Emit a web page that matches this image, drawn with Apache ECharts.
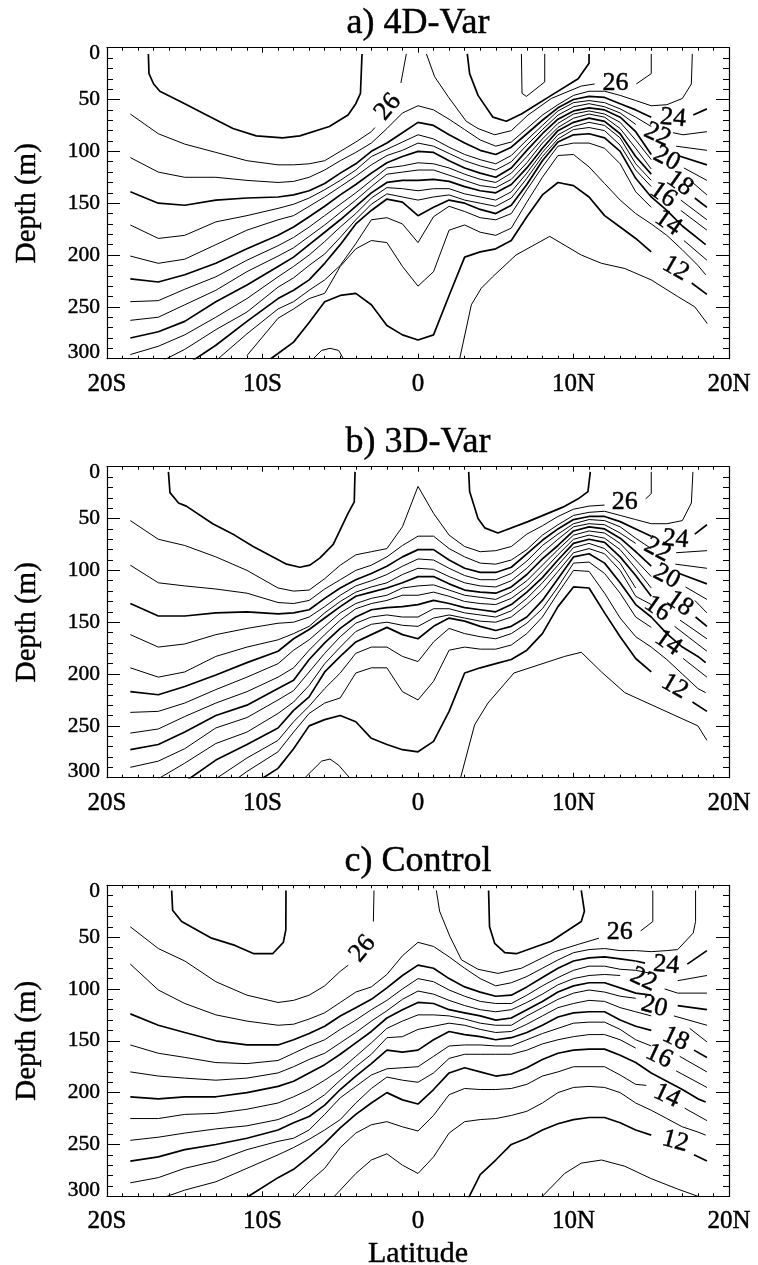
<!DOCTYPE html>
<html>
<head>
<meta charset="utf-8">
<title>Depth sections</title>
<script src="https://cdn.jsdelivr.net/npm/echarts@6/dist/echarts.min.js"></script>
<style>
  html, body { margin: 0; padding: 0; background: #fff; }
  #chart { width: 758px; height: 1265px; }
</style>
</head>
<body>
<div id="chart"></div>
<script>
// latitude (deg, south negative) of the columns used by the depth rows below
const latGrid = [-18.5,-16.7,-15,-13,-11,-9,-8,-7,-6,-5,-4,-3,-2,-1,0,1,2,3,4,5,6,7,8,9,10,11,12,13,14,15,16,17,18,18.5];
const latTicks = { "-20": "20S", "-10": "10S", "0": "0", "10": "10N", "20": "20N" };

// a) 4D-Var, depth (m) of each isotherm per column, null = no line there
const a26 = [64,83,93,101,109,113,113,112,109,100,91,81];
const a25 = [106,120,125,125,128,130,129,125,118,109,101,92,78,63,56,60,69,79,89,95,91,78,65,55,46,42,42,46,51,56,55,49];
const a24 = [139,150,152,147,145,144,142,138,131,121,112,100,92,82,72,75,84,92,99,103,96,83,70,58,50,47,48,54,60,67];
const a23 = [171,184,181,168,162,155,151,145,137,128,118,105,98,91,84,88,96,103,108,112,104,89,75,61,53,51,53,59,67,76];
const a22 = [201,208,204,190,176,166,162,153,144,134,124,113,104,99,92,95,102,109,114,118,110,94,79,65,57,54,57,63,74];
const a21 = [223,226,219,208,194,181,173,163,153,142,132,121,111,105,100,101,109,116,121,125,116,99,83,69,61,58,60,67,81,103];
const a20 = [245,244,233,221,205,191,183,173,162,151,140,128,116,114,111,112,116,122,127,130,121,105,88,73,64,61,64,72,89,108];
const a19 = [263,260,248,234,216,201,193,182,171,159,147,134,122,120,118,118,123,128,133,135,127,111,92,77,68,64,67,78,97,117];
const a18 = [280,274,264,245,229,211,202,190,178,166,153,140,130,128,128,127,129,134,138,140,132,116,97,80,72,68,71,83,105,122];
const a17 = [296,288,277,260,242,221,211,200,187,173,160,145,135,136,138,136,136,141,144,147,139,121,101,84,76,72,75,87,112,128];
const a16 = [311,304,291,272,255,231,222,210,199,183,166,151,141,144,147,144,142,147,150,153,145,126,105,88,79,77,80,94,118,134];
const a15 = [null,null,307,287,264,242,234,224,208,190,170,157,146,149,162,154,147,150,156,160,152,132,109,91,84,83,87,100,126,144,157,172,184,190];
const a14 = [null,null,null,302,276,252,245,234,224,210,189,166,164,170,188,163,153,158,164,166,160,137,115,95,92,92,97,112,139,154];
const a13 = [null,null,null,null,297,261,252,242,237,211,194,186,188,211,230,216,176,171,178,181,174,149,125,104,103,115,131,147,160,170,181,195,210,219];
const a12 = [null,null,null,null,null,295,284,265,245,239,237,248,268,277,282,277,239,202,197,194,186,163,142,130,133,144,162,173,184,197];

// b) 3D-Var
const b26 = [52,70,76,87,100,117,120,119,108,95,85,82,79,58,19,45,66,77,82,81,77,65,57,48,41,38,37];
const b25 = [95,112,115,118,122,131,132,129,118,109,100,95,87,76,67,67,79,87,93,94,90,80,66,56,47,44,43,47,51,55,55,52];
const b24 = [132,144,144,141,140,142,141,138,127,117,109,103,96,87,80,80,90,98,102,102,97,84,71,60,51,48,48,53,60,67];
const b23 = [162,174,171,162,156,151,150,145,135,124,115,110,104,96,89,90,98,105,109,109,103,91,76,65,55,51,52,58,69,79];
const b22 = [194,203,198,183,174,167,161,154,141,130,121,116,112,104,98,99,106,112,115,116,110,98,83,70,58,55,56,64,74];
const b21 = [217,220,212,201,189,178,166,157,146,135,125,121,117,112,106,106,113,119,121,122,116,104,89,76,62,58,60,69,82,96];
const b20 = [237,236,228,215,203,190,177,167,154,141,132,127,124,117,115,114,119,124,126,128,121,110,95,80,66,62,64,74,90,106];
const b19 = [257,253,241,228,217,203,194,177,162,148,137,132,129,124,124,121,125,130,132,133,127,116,101,85,70,66,69,80,98,117];
const b18 = [273,268,256,240,230,214,206,186,170,156,145,138,136,135,133,129,132,136,138,140,133,121,107,90,74,70,73,87,105,125];
const b17 = [290,284,272,252,242,225,216,198,180,164,151,145,143,145,145,137,137,141,143,145,139,127,112,95,78,74,79,93,117];
const b16 = [null,301,286,267,256,238,227,211,190,174,159,152,150,153,154,146,143,146,149,150,145,133,119,101,83,79,84,100,125,133];
const b15 = [null,null,304,283,268,252,235,222,198,183,169,162,155,162,166,154,146,149,154,158,154,145,129,108,87,84,93,112,133,145,161,174,183,189];
const b14 = [null,null,null,301,281,264,246,231,214,199,180,174,174,183,188,169,156,161,164,166,161,151,137,116,93,92,103,122,145,155];
const b13 = [null,null,null,null,294,275,256,238,228,223,199,194,194,217,225,207,177,174,176,176,172,161,145,122,100,101,122,146,164,174,186,200,214,218];
const b12 = [null,null,null,null,null,291,272,250,244,240,246,262,268,273,275,265,236,199,194,190,186,177,161,135,116,117,141,164,185,198];

// c) Control
const c26 = [40,61,73,93,106,113,111,106,97,83];
const c25 = [76,101,114,125,131,135,134,129,123,113,103,98,86,68,55,59,69,80,90,97,94,88,80,72,65,62,61,63,63,64,63];
const c24 = [124,135,142,150,154,154,149,143,136,126,118,110,99,87,77,80,90,98,103,107,106,98,89,80,73,70,69,71,73];
const c23 = [154,162,166,171,172,169,162,155,149,139,130,120,111,100,90,93,101,107,112,114,114,106,97,89,82,78,78,81,82,85];
const c22 = [180,184,186,188,186,181,175,168,162,152,142,131,121,110,102,105,111,116,120,122,120,113,105,96,90,87,86,87];
const c21 = [204,206,204,204,200,194,189,181,173,163,152,141,128,120,113,114,120,123,126,130,128,120,112,103,97,94,94,99,104,106];
const c20 = [225,225,221,220,216,210,204,197,188,178,165,152,138,131,125,125,126,129,133,135,135,126,118,110,104,101,103,107,109];
const c19 = [246,243,239,235,232,226,220,212,202,188,175,163,147,146,139,136,133,135,139,142,141,134,126,118,114,111,112,118,122,126];
const c18 = [266,262,255,250,244,236,229,223,212,197,184,172,159,161,159,149,141,144,146,149,147,142,135,127,123,122,122,130,136,140];
const c17 = [287,282,273,266,255,247,244,236,221,205,194,183,177,176,175,165,155,154,154,155,155,149,143,138,133,132,132,139,149,155];
const c16 = [null,303,294,286,273,260,253,245,236,226,210,196,185,188,190,181,167,163,163,163,163,159,153,149,146,144,144,149,157];
const c15 = [null,null,null,null,301,282,274,262,249,234,221,210,200,207,211,197,181,176,180,184,182,176,168,162,159,158,158,164,171,181,189,197,206,209];
const c14 = [null,null,null,null,null,null,301,286,273,253,239,231,228,233,237,222,202,196,197,197,196,192,184,180,175,175,175,183,192];
const c13 = [null,null,null,null,null,null,null,null,310,294,278,265,259,270,278,262,239,228,226,225,222,218,210,200,195,194,195,200,210,217,225,233,238,241];
const c12 = [null,null,null,null,null,null,null,null,null,null,null,null,null,null,null,null,null,309,279,265,250,244,236,230,226,224,224,229,236,241];

// short pieces [lat, depth], the parts that leave the column rows or come back after a label
const a27Left = [[-17.34,6],[-17.3,25],[-17,35],[-16.6,42],[-15,54],[-13.6,65],[-11.9,78],[-10.4,85],[-8.7,87],[-7.6,85],[-5.7,76],[-4.5,65],[-4,54],[-3.7,44],[-3.6,6]];
const a27Right = [[3.17,6],[3.32,25],[3.86,46],[4.82,67],[5.68,71],[6.65,64],[8.57,46],[10.3,30],[11,15],[11,6]];
const a28Pool = [[6.65,6],[6.69,44],[6.97,47],[8.15,33],[8.15,6]];
const a26End = [[-3,81],[-2.77,77]];
const a26Top = [[-0.75,6],[-1.1,34]];
const a26Mid = [[0.54,6],[1.07,28],[1.93,47],[3.1,71],[3.86,78],[4.93,84],[6,80],[7.07,65],[8.57,49],[10.5,37],[11.36,35]];
const a26East = [[14.04,35],[15,25],[15,6]];
const a25East = [[17,49],[17.58,35],[17.64,6]];
const a24East = [[17.7,65],[18.58,59]];
const a23East = [[16.4,82],[17.04,84],[18.58,81]];
const a22East = [[16.6,95],[18.58,99]];
const a21East = [[16.7,104],[18.58,113]];
const a20East = [[17.1,116],[18.58,128]];
const a19East = [[17.5,128],[18.58,142]];
const a18East = [[17.8,145],[18.58,154]];
const a17East = [[16.9,147],[18.58,166]];
const a16East = [[16.9,157],[18.58,176]];
const a14East = [[17.1,186],[18.58,205]];
const a12West = [[-9.47,300],[-9,295]];
const a12East = [[17.6,227],[18.58,238]];
const a11Bump = [[-6.73,300],[-6.2,292],[-5.66,290],[-5.1,292],[-4.8,300]];
const a11East = [[2.68,300],[3.43,248],[4.07,232],[4.8,221],[6.3,200],[8.47,182],[10.5,200],[11.8,208],[13.3,213],[15,224],[16.7,240],[17.8,250],[18.6,266]];

const b27Left = [[-16.05,5],[-15.95,25],[-15.4,35],[-14.9,38],[-13.2,55],[-11.8,66],[-10.6,77],[-8.45,94],[-7.6,97],[-6.95,95],[-6.3,88],[-5.45,75],[-4.5,45],[-4.1,34],[-4.05,5]];
const b27Right = [[3.26,5],[3.32,24],[3.86,50],[4.29,59],[5.14,64],[7.07,53],[9.32,39],[10.3,31],[10.93,24],[11.08,5]];
const b26East = [[14.64,31],[15,26],[15,5]];
const b25East = [[17,52],[17.58,35],[17.68,5]];
const b24East = [[17.8,65],[18.58,56]];
const b23East = [[16.6,83],[18.58,81]];
const b22East = [[16.55,94],[18.58,98]];
const b21East = [[16.8,103],[18.58,113]];
const b20East = [[17.2,116],[18.58,128]];
const b19East = [[17.8,129],[18.58,141]];
const b18East = [[17.85,145],[18.58,154]];
const b17East = [[16.85,148],[18.58,166]];
const b16East = [[16.5,154],[18.58,178]];
const b14East = [[17.05,185],[18.58,203]];
const b13West = [[-11.55,300],[-11,294]];
const b12West = [[-9.95,300],[-9,291]];
const b12East = [[17.65,227],[18.58,236]];
const b11Bump = [[-7.27,300],[-6.2,284],[-5.66,282],[-5.1,288],[-4.4,300]];
const b11East = [[2.74,300],[3.64,249],[4.5,228],[6.17,199],[9.43,183],[10.5,179],[11.8,198],[13.3,218],[18,250],[18.58,264]];

const c27Left = [[-15.84,5],[-15.78,24],[-15.2,35],[-13.27,51],[-11.77,58],[-10.55,66],[-9.35,66],[-8.66,55],[-8.5,43],[-8.49,5]];
const c27Right = [[4.54,5],[4.6,40],[4.93,56],[5.58,65],[6.32,66],[8.57,54],[10.5,35],[10.7,25],[10.5,5]];
const c26End = [[-5,83],[-4.48,77]];
const c26Top = [[-2.83,5],[-2.87,35]];
const c26Mid = [[1.18,5],[1.39,25],[2.04,49],[2.8,72],[3.86,81],[5.14,85],[6.65,80],[8.8,64],[10.3,57],[11.64,51]];
const c26East = [[14.32,44],[15.1,35],[15.1,5]];
const c25East = [[16,63],[16.7,62],[17.7,46],[17.85,35],[17.85,5]];
const c24Mid = [[14,73],[14.6,75]];
const c24East = [[17.32,76],[18.58,63]];
const c23East = [[16.7,92],[18.58,87]];
const c22East = [[15.86,100],[16.7,104],[18.58,104]];
const c21East = [[16.7,116],[18.58,120]];
const c20East = [[16.46,126],[18.58,135]];
const c19East = [[17.47,138],[18.58,151]];
const c18East = [[17.75,159],[18.58,166]];
const c17East = [[16.83,165],[18.58,180]];
const c16East = [[16.6,179],[18.58,195]];
const c14Mid = [[14,192],[14.68,193]];
const c14East = [[17.15,215],[18.58,227]];
const c12East = [[17.75,260],[18.58,266]];
const c11East = [[8,300],[9.43,278],[10.5,268],[11.8,265],[13.3,271],[15,283],[16.7,293],[18,300]];

// contour labels
const labelTextA = ["26","26","24","22","20","18","16","14","12"];
const labelAtA = [[-1.93,57],[12.7,34],[16.4,68],[15.4,84],[16,107],[16.83,131],[15.76,142],[16.08,169],[16.57,213]];
const labelTextB = ["26","24","22","20","18","16","14","12"];
const labelAtB = [[13.3,34],[16.57,70],[15.4,80],[16,106],[16.83,132],[15.4,137],[16.08,170],[16.5,212]];
const labelTextC = ["26","26","24","22","20","18","16","14","12"];
const labelAtC = [[-3.56,61],[12.97,45],[15.97,77],[14.5,91],[15.2,117],[16.57,148],[15.5,165],[16,203],[16.55,247]];

const FONT = "Liberation Serif";
const angleA = [50,0,-5,-25,-28,-35,-35,-35,-30];
const angleB = [0,-5,-28,-28,-35,-35,-35,-30];
const angleC = [50,0,-5,-25,-15,-25,-25,-25,-15];
const heavy = { textBorderColor: "#000", textBorderWidth: 0.45 };

const panels = [
  { title: "a) 4D-Var", titleTop: 1, top: 47.7,
    thin: [a26,a25,a23,a22,a20,a19,a17,a16,a14,a13],
    thick: [a24,a21,a18,a15,a12],
    thinBits: [a26End,a26Top,a26Mid,a26East,a25East,a23East,a22East,a20East,a19East,a17East,a16East,a14East,a11Bump,a11East,a28Pool],
    thickBits: [a27Left,a27Right,a24East,a21East,a18East,a12West,a12East],
    labels: labelTextA, labelAt: labelAtA, angles: angleA },
  { title: "b) 3D-Var", titleTop: 420, top: 466.7,
    thin: [b26,b25,b23,b22,b20,b19,b17,b16,b14,b13],
    thick: [b24,b21,b18,b15,b12],
    thinBits: [b26East,b25East,b23East,b22East,b20East,b19East,b17East,b16East,b14East,b13West,b11Bump,b11East],
    thickBits: [b27Left,b27Right,b24East,b21East,b18East,b12West,b12East],
    labels: labelTextB, labelAt: labelAtB, angles: angleB },
  { title: "c) Control", titleTop: 839, top: 885.3,
    thin: [c26,c25,c23,c22,c20,c19,c17,c16,c14,c13],
    thick: [c24,c21,c18,c15,c12],
    thinBits: [c26End,c26Top,c26Mid,c26East,c25East,c23East,c22East,c20East,c19East,c17East,c16East,c14Mid,c14East,c11East],
    thickBits: [c27Left,c27Right,c24Mid,c24East,c21East,c18East,c12East],
    labels: labelTextC, labelAt: labelAtC, angles: angleC },
];

const lineSeries = (data, width, index) => ({
  type: "line",
  xAxisIndex: index * 2,
  yAxisIndex: index * 2,
  data,
  showSymbol: false,
  clip: true,
  connectNulls: false,
  animation: false,
  silent: true,
  lineStyle: { color: "#000", width },
});

const xAxes = [];
const yAxes = [];
const grids = [];
const titles = [];
const series = [];

panels.forEach((p, i) => {
  grids.push({ left: 107, width: 622, top: p.top, height: 311, outerBoundsMode: "none" });
  titles.push({
    text: p.title,
    left: 413,
    top: p.titleTop,
    textAlign: "center",
    textStyle: { fontFamily: FONT, fontSize: 36, fontWeight: "normal", color: "#000", ...heavy },
  });

  const xBase = {
    type: "value", gridIndex: i, min: -20, max: 20, interval: 10,
    axisLine: { show: true, onZero: false, lineStyle: { color: "#000", width: 1.2 } },
    axisTick: { inside: true, length: 5, lineStyle: { color: "#000" } },
    minorTick: { show: true, splitNumber: 10, length: 3, lineStyle: { color: "#000" } },
    splitLine: { show: false },
  };
  const yBase = {
    type: "value", gridIndex: i, min: 0, max: 300, interval: 50, inverse: true,
    axisLine: { show: true, onZero: false, lineStyle: { color: "#000", width: 1.2 } },
    axisTick: { inside: true, length: 13, lineStyle: { color: "#000" } },
    minorTick: { show: true, splitNumber: 5, length: 6, lineStyle: { color: "#000" } },
    splitLine: { show: false },
  };
  xAxes.push({
    ...xBase,
    position: "bottom",
    axisLabel: {
      show: true, margin: 13, fontFamily: FONT, fontSize: 25, color: "#000", ...heavy,
      showMinLabel: true, showMaxLabel: true, hideOverlap: false,
      formatter: (v) => latTicks[v],
    },
    ...(i === 2 ? {
      name: "Latitude", nameLocation: "middle", nameGap: 43,
      nameTextStyle: { fontFamily: FONT, fontSize: 30, lineHeight: 30, color: "#000", ...heavy },
    } : {}),
  });
  xAxes.push({ ...xBase, position: "top", axisLabel: { show: false } });
  yAxes.push({
    ...yBase,
    position: "left",
    name: "Depth (m)", nameLocation: "middle", nameRotate: 90, nameGap: 65,
    nameTextStyle: { fontFamily: FONT, fontSize: 29, color: "#000", ...heavy },
    axisLabel: {
      show: true, margin: 7, fontFamily: FONT, fontSize: 21.5, lineHeight: 12, color: "#000", ...heavy,
      verticalAlignMinLabel: "top", verticalAlignMaxLabel: "bottom",
    },
  });
  yAxes.push({ ...yBase, position: "right", axisLabel: { show: false } });

  p.thin.forEach((row) => series.push(lineSeries(row.map((d, k) => [latGrid[k], d]), 1, i)));
  p.thick.forEach((row) => series.push(lineSeries(row.map((d, k) => [latGrid[k], d]), 1.7, i)));
  p.thinBits.forEach((bit) => series.push(lineSeries(bit, 1, i)));
  p.thickBits.forEach((bit) => series.push(lineSeries(bit, 1.7, i)));

  series.push({
    type: "scatter",
    xAxisIndex: i * 2,
    yAxisIndex: i * 2,
    symbolSize: 0,
    animation: false,
    silent: true,
    itemStyle: { opacity: 1 },
    data: p.labelAt.map((at, k) => ({
      value: at,
      label: {
        show: true, position: "inside", formatter: p.labels[k], rotate: p.angles[k],
        fontFamily: FONT, fontSize: 26, color: "#000", opacity: 1, ...heavy,
      },
    })),
  });
});

const chart = echarts.init(document.getElementById("chart"), null, { renderer: "canvas" });
chart.setOption({
  backgroundColor: "#fff",
  animation: false,
  title: titles,
  grid: grids,
  xAxis: xAxes,
  yAxis: yAxes,
  series,
});
</script>
</body>
</html>
